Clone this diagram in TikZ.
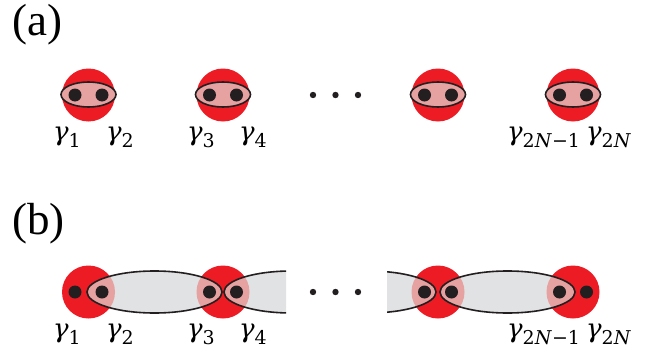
\documentclass[tikz,border=0pt]{standalone}
\usepackage{fontspec}
\newfontfamily\timesf{Liberation Serif}
\newfontfamily\gamf{DejaVu Serif}
\definecolor{mjred}{HTML}{ED1C24}
\definecolor{mjpink}{HTML}{E6A1A1}
\definecolor{mjgray}{HTML}{E1E2E3}
\definecolor{mjblack}{HTML}{231F20}
\newcommand\gsub[1]{{\gamf\itshape γ}\raisebox{-0.3em}{\fontsize{19}{20}\selectfont\gamf #1}}
\tikzset{
  panellabel/.style={inner sep=0pt, anchor=base west, font=\timesf\fontsize{45}{48}\selectfont},
  gamlabel/.style={inner sep=0pt, anchor=base west, font=\gamf\fontsize{26}{28}\selectfont},
  outline/.style={draw=mjblack, line width=1.6pt},
}
\begin{document}
\begin{tikzpicture}[x=1pt,y=-1pt]
\path[use as bounding box] (0,0) rectangle (659,356);
% ---------- panel labels
\node[panellabel] (la) at (12,35) {(a)};
\node[panellabel] (lb) at (12,234) {(b)};
% ---------- panel (a)
\foreach \cx in {88.5,223,438,573}{
  \fill[mjred] (\cx,95) circle (26.5);
  \filldraw[fill=mjpink, outline] (\cx,94.5) ellipse (27.5 and 12.5);
  \fill[mjblack] (\cx-13.5,95) circle (6.5);
  \fill[mjblack] (\cx+13.5,95) circle (6.5);
}
\foreach \dx in {313,335.5,358}{ \fill[mjblack] (\dx,95) circle (3.2); }
\node[gamlabel] (g1a) at (53,140) {\gsub{1}};
\node[gamlabel] (g2a) at (106,140) {\gsub{2}};
\node[gamlabel] (g3a) at (187,140) {\gsub{3}};
\node[gamlabel] (g4a) at (239,140) {\gsub{4}};
\node[gamlabel] (g5a) at (507,140) {\gsub{2\textit{N}−1}};
\node[gamlabel] (g6a) at (586,140) {\gsub{2\textit{N}}};
% ---------- panel (b)
\def\by{292}
\foreach \cx in {88.5,223,438,573}{ \fill[mjred] (\cx,\by) circle (26.5); }
% gray fills
\fill[mjgray] (154.5,\by) ellipse (67.5 and 21);
\fill[mjgray] (507.5,\by) ellipse (67.5 and 21);
\begin{scope}
  \clip (200,250) rectangle (286,330);
  \fill[mjgray] (291.5,\by) ellipse (67.5 and 21);
\end{scope}
\begin{scope}
  \clip (387,250) rectangle (470,330);
  \fill[mjgray] (368.5,\by) ellipse (67.5 and 21);
\end{scope}
% pink overlaps
\foreach \cx in {88.5,223,438,573}{
  \begin{scope}
    \clip (\cx,\by) circle (26.5);
    \fill[mjpink] (154.5,\by) ellipse (67.5 and 21);
    \fill[mjpink] (507.5,\by) ellipse (67.5 and 21);
    \begin{scope}
      \clip (200,250) rectangle (286,330);
      \fill[mjpink] (291.5,\by) ellipse (67.5 and 21);
    \end{scope}
    \begin{scope}
      \clip (387,250) rectangle (470,330);
      \fill[mjpink] (368.5,\by) ellipse (67.5 and 21);
    \end{scope}
  \end{scope}
}
% outlines
\draw[outline] (154.5,\by) ellipse (67.5 and 21);
\draw[outline] (507.5,\by) ellipse (67.5 and 21);
\begin{scope}
  \clip (200,250) rectangle (286,330);
  \draw[outline] (291.5,\by) ellipse (67.5 and 21);
\end{scope}
\begin{scope}
  \clip (387,250) rectangle (470,330);
  \draw[outline] (368.5,\by) ellipse (67.5 and 21);
\end{scope}
% dots
\foreach \cx in {88.5,223,438,573}{
  \fill[mjblack] (\cx-13.5,\by) circle (6.5);
  \fill[mjblack] (\cx+13.5,\by) circle (6.5);
}
\foreach \dx in {313,335.5,358}{ \fill[mjblack] (\dx,\by) circle (3.2); }
\node[gamlabel] (g1b) at (53,337) {\gsub{1}};
\node[gamlabel] (g2b) at (106,337) {\gsub{2}};
\node[gamlabel] (g3b) at (187,337) {\gsub{3}};
\node[gamlabel] (g4b) at (239,337) {\gsub{4}};
\node[gamlabel] (g5b) at (507,337) {\gsub{2\textit{N}−1}};
\node[gamlabel] (g6b) at (586,337) {\gsub{2\textit{N}}};
\end{tikzpicture}
\end{document}
